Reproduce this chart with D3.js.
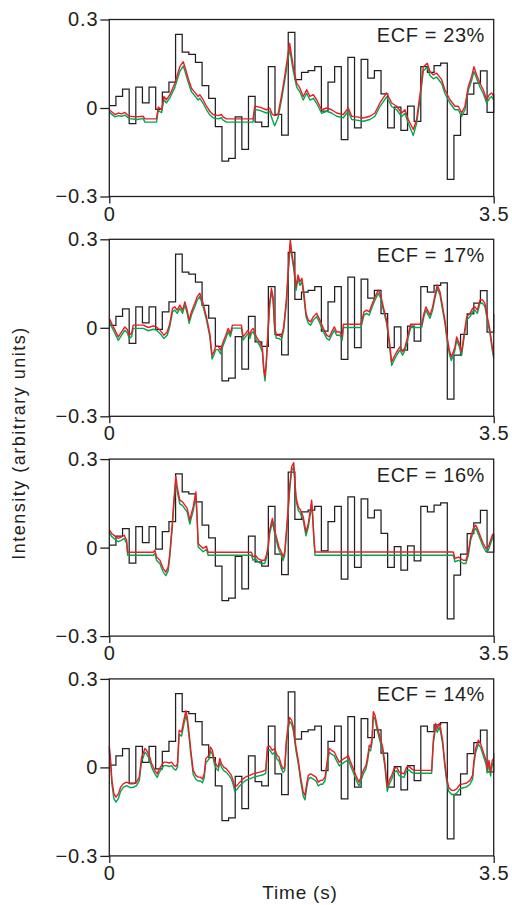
<!DOCTYPE html>
<html>
<head>
<meta charset="utf-8">
<script src="https://cdn.jsdelivr.net/npm/d3@7"></script>
<style>
body { margin: 0; background: #fff; }
svg text { font-family: "Liberation Sans", Arial, Helvetica, sans-serif; fill: #231f20; }
</style>
</head>
<body>
<svg id="chart" width="512" height="905"></svg>
<script>
// panel labels and ticks
var ecfLabels = ["ECF = 23%", "ECF = 17%", "ECF = 16%", "ECF = 14%"];
var yTicks = [-0.3, 0, 0.3];
var xTicks = [0, 3.5];
var duration = 3.5;

// stimulus (black step trace), same in every panel, one value per bin
var stimulus = [0.008, 0.039, 0.064, -0.053, 0.071, 0.017, 0.071, -0.005, 0.054, 0.088,
    0.250, 0.189, 0.182, 0.155, 0.076, 0.033, -0.063, -0.180, -0.171, -0.030,
    -0.140, 0.039, -0.048, -0.063, 0.140, -0.022, -0.092, 0.256,
    0.096, 0.121, 0.127, 0.140, -0.011, 0.088, 0.140, -0.107, 0.172, -0.067,
    0.165, 0.101, 0.127, 0.048, -0.067, 0.003, -0.076, 0.006, -0.045, 0.140,
    0.121, 0.144, 0.152, -0.242, -0.093, -0.022, 0.047, 0.084, 0.126, -0.015, 0.047];

// ECF = 23%
var timeA = [0.000, 0.052, 0.082, 0.112, 0.142, 0.182, 0.248, 0.309, 0.324, 0.430, 0.445, 0.476, 0.497, 0.521, 0.551, 0.597, 0.642, 0.673, 0.688, 0.718, 0.748, 0.779, 0.809, 0.824, 0.854, 0.885, 0.915, 0.945, 0.991, 1.021, 1.036, 1.067, 1.309, 1.324, 1.370, 1.430, 1.460, 1.485, 1.506, 1.536, 1.567, 1.597, 1.642, 1.675, 1.706, 1.736, 1.766, 1.797, 1.827, 1.857, 1.888, 1.933, 1.979, 2.024, 2.070, 2.131, 2.176, 2.207, 2.252, 2.313, 2.373, 2.419, 2.464, 2.525, 2.571, 2.616, 2.662, 2.692, 2.722, 2.768, 2.798, 2.835, 2.859, 2.895, 2.920, 2.950, 2.980, 3.026, 3.056, 3.102, 3.147, 3.178, 3.208, 3.238, 3.269, 3.299, 3.320, 3.345, 3.375, 3.405, 3.436, 3.460, 3.481, 3.500];
var redA = [-0.006, -0.022, -0.017, -0.020, -0.015, -0.028, -0.030, -0.028, -0.037, -0.037, 0.003, -0.006, 0.039, 0.028, 0.045, 0.084, 0.140, 0.157, 0.140, 0.101, 0.067, 0.053, 0.039, 0.045, 0.028, 0.006, -0.011, -0.022, -0.026, -0.022, -0.030, -0.037, -0.037, 0.006, 0.003, -0.006, 0.000, -0.022, -0.026, -0.022, 0.039, 0.107, 0.219, 0.140, 0.084, 0.067, 0.039, 0.062, 0.039, 0.045, 0.028, -0.006, 0.000, -0.006, -0.017, -0.022, 0.000, -0.028, -0.030, -0.034, -0.028, -0.017, 0.017, 0.051, 0.017, 0.006, -0.017, -0.006, -0.039, -0.073, -0.039, 0.062, 0.140, 0.152, 0.124, 0.112, 0.118, 0.096, 0.062, 0.028, 0.006, 0.006, -0.017, 0.006, 0.073, 0.107, 0.140, 0.112, 0.084, 0.062, 0.028, 0.045, 0.051, 0.039];
var greenA = [-0.014, -0.030, -0.026, -0.028, -0.024, -0.036, -0.039, -0.036, -0.048, -0.048, -0.008, -0.016, 0.028, 0.017, 0.034, 0.070, 0.124, 0.142, 0.126, 0.088, 0.055, 0.041, 0.027, 0.033, 0.016, -0.006, -0.023, -0.033, -0.037, -0.033, -0.041, -0.048, -0.048, -0.005, -0.008, -0.017, -0.011, -0.040, -0.060, -0.034, 0.026, 0.092, 0.200, 0.126, 0.071, 0.054, 0.027, 0.050, 0.027, 0.033, 0.016, -0.018, -0.011, -0.017, -0.028, -0.033, -0.011, -0.039, -0.041, -0.045, -0.039, -0.028, 0.005, 0.038, 0.005, -0.006, -0.029, -0.018, -0.052, -0.093, -0.052, 0.048, 0.126, 0.138, 0.110, 0.099, 0.105, 0.083, 0.049, 0.016, -0.006, -0.006, -0.029, -0.006, 0.060, 0.093, 0.124, 0.099, 0.071, 0.049, 0.016, 0.032, 0.039, 0.027];

// ECF = 17%
var timeB = [0.000, 0.021, 0.052, 0.082, 0.112, 0.142, 0.164, 0.182, 0.203, 0.218, 0.309, 0.355, 0.400, 0.430, 0.461, 0.497, 0.527, 0.551, 0.576, 0.597, 0.618, 0.642, 0.667, 0.688, 0.709, 0.727, 0.748, 0.779, 0.800, 0.824, 0.854, 0.885, 0.915, 0.936, 0.951, 0.970, 0.991, 1.012, 1.036, 1.061, 1.082, 1.103, 1.121, 1.203, 1.218, 1.242, 1.264, 1.279, 1.294, 1.309, 1.324, 1.339, 1.370, 1.394, 1.406, 1.418, 1.430, 1.445, 1.460, 1.476, 1.491, 1.506, 1.521, 1.545, 1.567, 1.588, 1.612, 1.633, 1.648, 1.660, 1.681, 1.700, 1.718, 1.736, 1.754, 1.772, 1.791, 1.812, 1.833, 1.857, 1.888, 1.918, 1.949, 1.979, 2.003, 2.024, 2.049, 2.070, 2.100, 2.121, 2.131, 2.291, 2.319, 2.343, 2.367, 2.389, 2.419, 2.449, 2.471, 2.495, 2.525, 2.549, 2.571, 2.592, 2.616, 2.647, 2.671, 2.692, 2.713, 2.731, 2.744, 2.844, 2.865, 2.883, 2.905, 2.920, 2.944, 2.965, 2.986, 3.011, 3.035, 3.056, 3.071, 3.096, 3.114, 3.132, 3.147, 3.163, 3.187, 3.208, 3.229, 3.254, 3.284, 3.308, 3.329, 3.351, 3.375, 3.399, 3.420, 3.442, 3.466, 3.487, 3.500];
var redB = [0.032, 0.015, -0.008, -0.031, -0.014, 0.003, -0.006, -0.025, -0.019, 0.009, 0.009, 0.001, 0.006, 0.003, -0.008, -0.025, -0.014, 0.015, 0.066, 0.071, 0.060, 0.077, 0.060, 0.088, 0.060, 0.026, 0.054, 0.083, 0.105, 0.117, 0.083, 0.037, -0.019, -0.093, -0.082, -0.062, -0.062, -0.076, -0.048, -0.025, -0.002, -0.019, 0.009, 0.009, -0.031, -0.019, -0.008, -0.025, -0.008, -0.002, -0.014, -0.031, -0.048, -0.070, -0.133, -0.166, -0.110, -0.008, 0.083, 0.134, 0.105, 0.003, -0.025, -0.025, -0.031, 0.003, 0.094, 0.219, 0.298, 0.258, 0.207, 0.139, 0.179, 0.156, 0.168, 0.117, 0.049, 0.026, 0.020, 0.037, 0.049, 0.026, -0.002, -0.025, -0.031, -0.014, 0.003, -0.014, -0.014, -0.031, 0.012, 0.012, 0.054, 0.060, 0.054, 0.077, 0.105, 0.128, 0.111, 0.071, 0.026, -0.042, -0.116, -0.099, -0.082, -0.065, -0.082, -0.065, -0.036, -0.008, 0.012, 0.012, 0.049, 0.071, 0.054, 0.043, 0.071, 0.111, 0.145, 0.122, 0.071, 0.026, -0.019, -0.076, -0.099, -0.082, -0.065, -0.031, -0.053, -0.082, -0.025, 0.037, 0.049, 0.066, 0.071, 0.060, 0.094, 0.094, 0.083, 0.037, -0.008, -0.065, -0.093];
var greenB = [0.022, 0.004, -0.019, -0.043, -0.025, -0.008, -0.017, -0.036, -0.030, -0.002, -0.002, -0.010, -0.005, -0.008, -0.019, -0.036, -0.025, 0.004, 0.055, 0.060, 0.049, 0.066, 0.049, 0.077, 0.049, 0.015, 0.043, 0.072, 0.094, 0.106, 0.072, 0.026, -0.030, -0.106, -0.094, -0.074, -0.074, -0.088, -0.060, -0.036, -0.013, -0.030, -0.001, -0.001, -0.042, -0.030, -0.019, -0.036, -0.019, -0.013, -0.025, -0.042, -0.060, -0.082, -0.146, -0.180, -0.122, -0.019, 0.072, 0.122, 0.094, -0.008, -0.036, -0.036, -0.042, -0.008, 0.083, 0.206, 0.285, 0.246, 0.195, 0.127, 0.167, 0.144, 0.156, 0.105, 0.038, 0.015, 0.009, 0.026, 0.038, 0.015, -0.013, -0.036, -0.042, -0.025, -0.008, -0.025, -0.025, -0.042, 0.001, 0.001, 0.043, 0.049, 0.043, 0.066, 0.094, 0.117, 0.100, 0.060, 0.015, -0.053, -0.128, -0.110, -0.093, -0.076, -0.093, -0.076, -0.047, -0.019, 0.001, 0.001, 0.038, 0.060, 0.043, 0.032, 0.060, 0.100, 0.134, 0.111, 0.060, 0.015, -0.030, -0.088, -0.111, -0.094, -0.076, -0.042, -0.064, -0.094, -0.036, 0.026, 0.038, 0.055, 0.060, 0.049, 0.083, 0.083, 0.072, 0.026, -0.019, -0.076, -0.104];

// ECF = 16%
var timeC = [0.000, 0.021, 0.052, 0.082, 0.112, 0.136, 0.158, 0.167, 0.400, 0.415, 0.430, 0.461, 0.491, 0.515, 0.536, 0.551, 0.576, 0.588, 0.606, 0.618, 0.642, 0.667, 0.688, 0.709, 0.733, 0.748, 0.764, 0.788, 0.800, 0.809, 0.824, 0.854, 0.885, 0.900, 1.294, 1.309, 1.330, 1.354, 1.385, 1.415, 1.430, 1.445, 1.460, 1.485, 1.506, 1.521, 1.545, 1.567, 1.582, 1.597, 1.618, 1.642, 1.660, 1.679, 1.700, 1.721, 1.742, 1.766, 1.791, 1.812, 1.833, 1.842, 1.851, 1.863, 1.873, 3.132, 3.147, 3.178, 3.199, 3.223, 3.247, 3.269, 3.290, 3.314, 3.336, 3.351, 3.375, 3.405, 3.430, 3.451, 3.472, 3.490, 3.500];
var redC = [0.061, 0.048, 0.039, 0.031, 0.036, 0.042, 0.025, -0.016, -0.016, -0.009, -0.032, -0.043, -0.071, -0.083, -0.066, -0.020, 0.093, 0.161, 0.242, 0.206, 0.161, 0.155, 0.144, 0.133, 0.093, 0.116, 0.138, 0.189, 0.104, 0.014, 0.008, -0.003, 0.005, -0.016, -0.016, -0.032, -0.026, -0.037, -0.043, -0.043, -0.026, 0.002, 0.059, 0.099, 0.059, 0.036, 0.002, -0.015, -0.032, -0.015, 0.082, 0.206, 0.274, 0.288, 0.172, 0.138, 0.127, 0.104, 0.053, 0.082, 0.133, 0.161, 0.116, 0.036, -0.015, -0.015, -0.037, -0.032, -0.037, -0.043, -0.043, -0.015, 0.036, 0.065, 0.076, 0.065, 0.042, 0.014, -0.003, 0.002, 0.025, 0.045, 0.036];
var greenC = [0.052, 0.038, 0.028, 0.020, 0.025, 0.031, 0.014, -0.026, -0.026, -0.020, -0.043, -0.055, -0.083, -0.095, -0.078, -0.031, 0.080, 0.148, 0.226, 0.192, 0.148, 0.142, 0.131, 0.120, 0.080, 0.103, 0.125, 0.175, 0.092, 0.003, -0.003, -0.014, -0.006, -0.026, -0.026, -0.043, -0.037, -0.048, -0.054, -0.054, -0.037, -0.009, 0.047, 0.086, 0.047, 0.024, -0.009, -0.027, -0.044, -0.027, 0.070, 0.192, 0.260, 0.274, 0.160, 0.126, 0.115, 0.092, 0.040, 0.070, 0.120, 0.148, 0.104, 0.024, -0.026, -0.026, -0.048, -0.043, -0.048, -0.054, -0.054, -0.026, 0.025, 0.054, 0.065, 0.054, 0.031, 0.003, -0.014, -0.009, 0.014, 0.034, 0.025];

// ECF = 14%
var timeD = [0.000, 0.012, 0.024, 0.042, 0.061, 0.082, 0.103, 0.127, 0.158, 0.188, 0.218, 0.248, 0.273, 0.294, 0.309, 0.324, 0.339, 0.364, 0.385, 0.415, 0.436, 0.455, 0.476, 0.497, 0.521, 0.545, 0.567, 0.588, 0.606, 0.621, 0.636, 0.658, 0.679, 0.697, 0.709, 0.727, 0.742, 0.764, 0.788, 0.809, 0.830, 0.848, 0.864, 0.879, 0.894, 0.909, 0.921, 0.939, 0.957, 0.976, 0.991, 1.006, 1.021, 1.042, 1.067, 1.091, 1.112, 1.127, 1.142, 1.164, 1.188, 1.218, 1.248, 1.279, 1.309, 1.339, 1.370, 1.400, 1.424, 1.439, 1.460, 1.485, 1.506, 1.527, 1.545, 1.567, 1.582, 1.597, 1.612, 1.627, 1.642, 1.660, 1.675, 1.700, 1.721, 1.742, 1.766, 1.782, 1.797, 1.812, 1.833, 1.857, 1.882, 1.903, 1.924, 1.942, 1.964, 1.985, 2.003, 2.024, 2.049, 2.070, 2.094, 2.115, 2.137, 2.161, 2.176, 2.191, 2.222, 2.252, 2.273, 2.291, 2.313, 2.337, 2.352, 2.367, 2.379, 2.392, 2.404, 2.419, 2.440, 2.464, 2.489, 2.510, 2.531, 2.549, 2.571, 2.592, 2.616, 2.640, 2.662, 2.683, 2.707, 2.731, 2.753, 2.774, 2.935, 2.950, 2.971, 2.986, 3.005, 3.017, 3.035, 3.056, 3.071, 3.090, 3.117, 3.138, 3.163, 3.193, 3.223, 3.254, 3.284, 3.308, 3.320, 3.336, 3.360, 3.381, 3.405, 3.430, 3.442, 3.457, 3.472, 3.487, 3.500];
var redD = [0.072, 0.024, -0.044, -0.090, -0.101, -0.090, -0.067, -0.056, -0.050, -0.056, -0.056, -0.050, -0.033, 0.035, 0.047, 0.064, 0.058, 0.041, 0.013, -0.010, -0.022, -0.005, 0.007, 0.018, 0.018, 0.015, 0.018, 0.007, 0.003, 0.013, 0.126, 0.120, 0.160, 0.192, 0.172, 0.115, 0.058, -0.010, -0.027, -0.033, -0.033, -0.039, -0.022, 0.030, 0.035, 0.041, 0.069, 0.058, 0.024, 0.007, 0.001, 0.030, 0.013, 0.001, -0.005, -0.016, -0.027, -0.044, -0.067, -0.061, -0.050, -0.039, -0.031, -0.027, -0.022, -0.019, -0.016, -0.013, -0.008, 0.069, 0.072, 0.058, 0.064, 0.041, 0.035, 0.007, -0.005, 0.001, 0.092, 0.138, 0.169, 0.160, 0.138, 0.069, 0.024, -0.033, -0.084, -0.095, -0.056, -0.027, -0.022, -0.027, -0.033, -0.050, -0.044, -0.044, -0.033, 0.024, 0.064, 0.058, 0.052, 0.035, 0.018, 0.024, 0.030, 0.035, 0.041, 0.024, -0.005, -0.033, -0.050, -0.033, -0.010, 0.007, 0.035, 0.075, 0.069, 0.098, 0.189, 0.177, 0.138, 0.103, 0.069, 0.013, -0.067, -0.044, -0.027, -0.005, 0.001, -0.016, -0.019, -0.022, 0.001, 0.003, -0.005, -0.010, -0.010, 0.092, 0.149, 0.132, 0.149, 0.132, 0.092, 0.013, -0.033, -0.067, -0.078, -0.078, -0.073, -0.058, -0.056, -0.053, -0.044, -0.027, 0.024, 0.064, 0.092, 0.081, 0.052, 0.024, -0.005, 0.024, -0.016, 0.024, 0.030];
var greenD = [0.060, 0.010, -0.058, -0.106, -0.118, -0.106, -0.081, -0.068, -0.062, -0.068, -0.068, -0.062, -0.045, 0.022, 0.034, 0.051, 0.046, 0.029, 0.001, -0.022, -0.034, -0.017, -0.005, 0.006, 0.006, 0.003, 0.006, -0.005, -0.009, 0.001, 0.112, 0.106, 0.146, 0.176, 0.158, 0.101, 0.045, -0.024, -0.040, -0.046, -0.046, -0.052, -0.035, 0.017, 0.022, 0.029, 0.056, 0.045, 0.011, -0.005, -0.011, 0.017, 0.001, -0.011, -0.017, -0.028, -0.040, -0.057, -0.081, -0.074, -0.062, -0.051, -0.043, -0.039, -0.034, -0.031, -0.028, -0.025, -0.020, 0.056, 0.060, 0.045, 0.051, 0.028, 0.022, -0.005, -0.017, -0.011, 0.080, 0.125, 0.156, 0.147, 0.125, 0.056, 0.011, -0.046, -0.098, -0.110, -0.069, -0.040, -0.034, -0.040, -0.046, -0.063, -0.057, -0.057, -0.046, 0.011, 0.051, 0.045, 0.039, 0.022, 0.005, 0.011, 0.017, 0.022, 0.028, 0.011, -0.017, -0.046, -0.063, -0.046, -0.022, -0.005, 0.022, 0.062, 0.056, 0.085, 0.174, 0.163, 0.125, 0.090, 0.056, 0.000, -0.081, -0.057, -0.040, -0.017, -0.011, -0.028, -0.031, -0.034, -0.011, -0.009, -0.017, -0.020, -0.020, 0.080, 0.136, 0.119, 0.136, 0.119, 0.080, 0.000, -0.046, -0.081, -0.092, -0.092, -0.087, -0.072, -0.069, -0.066, -0.057, -0.040, 0.011, 0.051, 0.079, 0.068, 0.039, 0.011, -0.018, 0.011, -0.029, 0.011, 0.017];

(function traces() {

    var svg = d3.select("#chart"),
        left = 109.3,
        right = 493.7,
        firstTop = 19.5,
        pitch = 219.8,
        plotH = 177;

    var panels = [
        { label: ecfLabels[0], t: timeA, red: redA, green: greenA },
        { label: ecfLabels[1], t: timeB, red: redB, green: greenB },
        { label: ecfLabels[2], t: timeC, red: redC, green: greenC },
        { label: ecfLabels[3], t: timeD, red: redD, green: greenD }
    ];

    var x = d3.scaleLinear().domain([0, duration]).range([left, right]);

    var binW = duration / (stimulus.length - 1);
    var stimPts = stimulus.map(function (v, i) { return [i * binW, v]; });

    panels.forEach(function (p, i) {
        var top = firstTop + i * pitch;
        var y = d3.scaleLinear().domain([-0.3, 0.3]).range([top + plotH, top]);

        var g = svg.append("g").attr("class", "panel");

        var line = d3.line()
            .x(function (d) { return x(d[0]); })
            .y(function (d) { return y(d[1]); });

        g.append("path")
            .datum(stimPts)
            .attr("d", line.curve(d3.curveStepAfter))
            .attr("fill", "none")
            .attr("stroke", "#231f20")
            .attr("stroke-width", 1.25);

        var lin = d3.line()
            .x(function (d) { return x(d[0]); })
            .y(function (d) { return y(d[1]); });

        g.append("path")
            .datum(p.t.map(function (t, k) { return [t, p.green[k]]; }))
            .attr("d", lin)
            .attr("fill", "none")
            .attr("stroke", "#00a651")
            .attr("stroke-width", 1.4)
            .attr("stroke-linejoin", "round");

        g.append("path")
            .datum(p.t.map(function (t, k) { return [t, p.red[k]]; }))
            .attr("d", lin)
            .attr("fill", "none")
            .attr("stroke", "#ed1c24")
            .attr("stroke-width", 1.4)
            .attr("stroke-linejoin", "round");

        // frame
        g.append("rect")
            .attr("x", left)
            .attr("y", top)
            .attr("width", right - left)
            .attr("height", plotH)
            .attr("fill", "none")
            .attr("stroke", "#231f20")
            .attr("stroke-width", 1.3);

        var yAxis = g.append("g")
            .attr("transform", "translate(" + left + ",0)")
            .call(d3.axisLeft(y).tickValues(yTicks).tickSize(9).tickPadding(2)
                .tickFormat(function (d) { return d === 0 ? "0" : d3.format(".1f")(d); }));

        var xAxis = g.append("g")
            .attr("transform", "translate(0," + (top + plotH) + ")")
            .call(d3.axisBottom(x).tickValues(xTicks).tickSize(7).tickPadding(3)
                .tickFormat(function (d) { return d === 0 ? "0" : "3.5"; }));

        [yAxis, xAxis].forEach(function (a) {
            a.select(".domain").remove();
            a.selectAll("line").attr("stroke", "#231f20").attr("stroke-width", 1.3);
            a.selectAll("text")
                .attr("fill", "#231f20")
                .style("font-family", "'Liberation Sans', Arial, sans-serif")
                .style("font-size", "20px")
                .style("letter-spacing", "0.8px");
        });

        g.append("text")
            .attr("x", 485)
            .attr("y", top + 22.5)
            .attr("text-anchor", "end")
            .style("font-size", "20px")
            .style("letter-spacing", "0.6px")
            .text(p.label);
    });

    svg.append("text")
        .attr("transform", "translate(25,443) rotate(-90)")
        .attr("text-anchor", "middle")
        .style("font-size", "18px")
        .style("letter-spacing", "1.5px")
        .text("Intensity (arbitrary units)");

    svg.append("text")
        .attr("x", 300)
        .attr("y", 899)
        .attr("text-anchor", "middle")
        .style("font-size", "19px")
        .style("letter-spacing", "0.8px")
        .text("Time (s)");

}());
</script>
</body>
</html>
